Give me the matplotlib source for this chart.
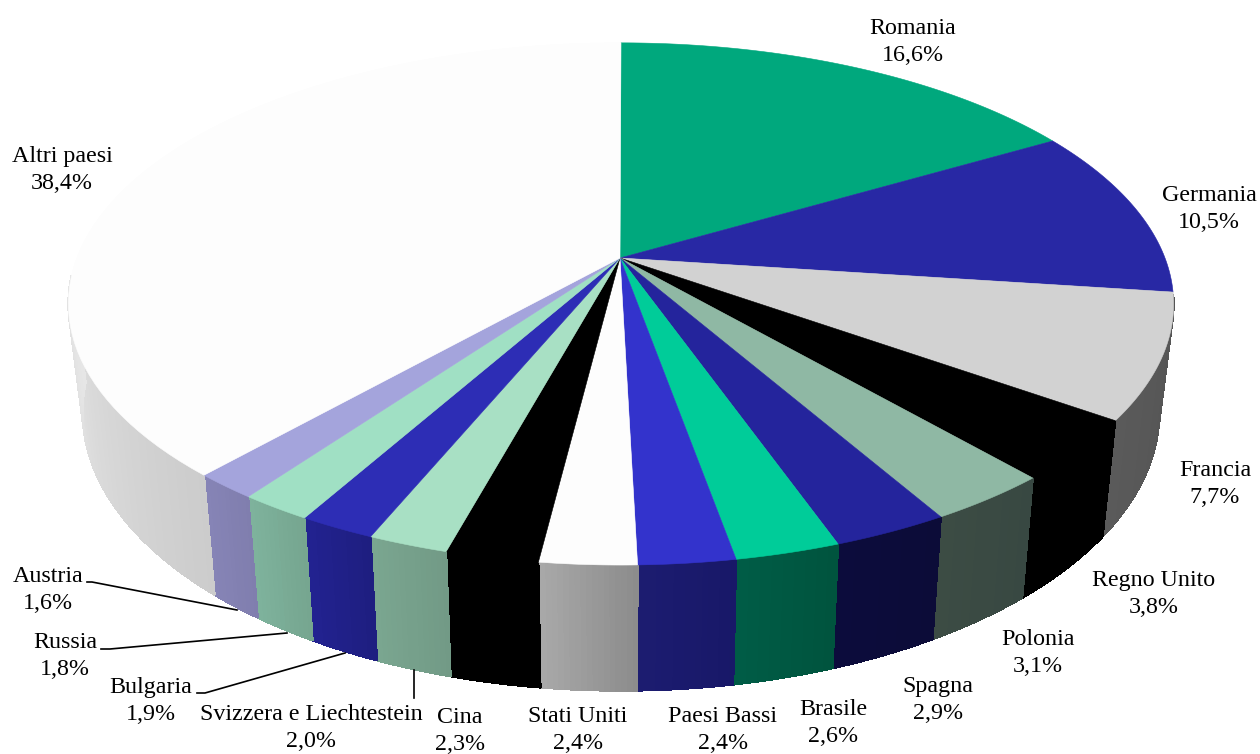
"""Italian share-by-country 3D pie, drawn as a projected disc."""
import numpy as np
import matplotlib
matplotlib.use('Agg')
import matplotlib.pyplot as plt
from matplotlib.colors import to_rgb
from matplotlib.patches import Polygon

countries = ['Romania', 'Germania', 'Francia', 'Regno Unito', 'Polonia', 'Spagna', 'Brasile',
             'Paesi Bassi', 'Stati Uniti', 'Cina', 'Svizzera e Liechtestein', 'Bulgaria',
             'Russia', 'Austria', 'Altri paesi']
shares = [16.6, 10.5, 7.7, 3.8, 3.1, 2.9, 2.6, 2.4, 2.4, 2.3, 2.0, 1.9, 1.8, 1.6, 38.4]
share_labels = ['16,6%', '10,5%', '7,7%', '3,8%', '3,1%', '2,9%', '2,6%', '2,4%', '2,4%',
                '2,3%', '2,0%', '1,9%', '1,8%', '1,6%', '38,4%']

top_colors = ['#00a87d', '#2828a4', '#d2d2d2', '#000000', '#8fb8a4', '#24249c', '#00cc99',
              '#3333cc', '#fdfdfd', '#000000', '#a8e0c4', '#2d2db5', '#a0e0c4', '#a4a4dc', '#fdfdfd']
side_start = ['#00a87d', '#2828a4', '#545454', '#000000', '#384842', '#0c0c38', '#00543e',
              '#181868', '#8c8c8c', '#000000', '#729a86', '#1e1e80', '#76a690', '#807eae', '#cccccc']
side_end = ['#00a87d', '#2828a4', '#5a5a5a', '#000000', '#3c4c44', '#0c0c3c', '#005c46',
            '#1c1c70', '#a8a8a8', '#000000', '#7aa690', '#222290', '#7eb29c', '#8684b6', '#e6e6e6']

label_xy = [(913, 42), (1209, 209), (1215, 484), (1154, 594), (1038, 653), (938, 700), (833, 723),
            (723, 730), (578, 730), (460, 731), (311, 728), (151, 701), (65, 656), (48, 590), (62, 170)]

leaders = {
    'Austria': [(87, 582), (92, 582), (237, 610)],
    'Russia': [(101, 649), (110, 649), (287, 633)],
    'Bulgaria': [(197, 693), (205, 693), (345, 653)],
    'Svizzera e Liechtestein': [(414, 670), (414, 698)],
}

# projection of the disc, in image pixels
K = 0.176
APEX = (620, 258)
RIM_CX = 621


def top_xy(theta):
    u, v = np.sin(theta), np.cos(theta)
    d = 1 + K * v
    return RIM_CX + 544 * u / d, 258 - 253 * v / d


def bottom_xy(theta):
    u, v = np.sin(theta), np.cos(theta)
    d = 1 + K * v
    return RIM_CX + 530 * u / d, 363 - 270 * v / d


fig = plt.figure(figsize=(12.6, 7.54), dpi=100)
ax = fig.add_axes([0, 0, 1, 1])
ax.set_xlim(0, 1260)
ax.set_ylim(754, 0)
ax.axis('off')

edges = np.radians(np.concatenate([[0], np.cumsum(shares)]) * 3.6)

# side wall: only the part facing the viewer
for i in range(len(shares)):
    lo, hi = max(edges[i], np.radians(98)), min(edges[i + 1], np.radians(266))
    if hi <= lo:
        continue
    steps = max(2, int(np.degrees(hi - lo) * 2))
    grid = np.linspace(lo, hi, steps + 1)
    c0, c1 = np.array(to_rgb(side_start[i])), np.array(to_rgb(side_end[i]))
    for j in range(steps):
        t = j / max(steps - 1, 1)
        col = c0 + (c1 - c0) * t
        x0, y0 = top_xy(grid[j])
        x1, y1 = top_xy(grid[j + 1])
        x2, y2 = bottom_xy(grid[j + 1])
        x3, y3 = bottom_xy(grid[j])
        ax.add_patch(Polygon([(x0, y0), (x1, y1), (x2, y2), (x3, y3)], closed=True,
                             facecolor=col, edgecolor=col, linewidth=0.8, antialiased=False))

# top face
for i in range(len(shares)):
    grid = np.linspace(edges[i], edges[i + 1], 80)
    xs, ys = top_xy(grid)
    pts = [APEX] + list(zip(xs, ys))
    ax.add_patch(Polygon(pts, closed=True, facecolor=top_colors[i], edgecolor=top_colors[i],
                         linewidth=0.4))

for name, pct, (x, y) in zip(countries, share_labels, label_xy):
    ax.text(x, y, f'{name}\n{pct}', ha='center', va='center', family='Liberation Serif',
            fontsize=17.3, color='black', linespacing=1.38)

for pts in leaders.values():
    xs, ys = zip(*pts)
    ax.plot(xs, ys, color='black', linewidth=1.2)

fig.savefig('out.png', dpi=100)
